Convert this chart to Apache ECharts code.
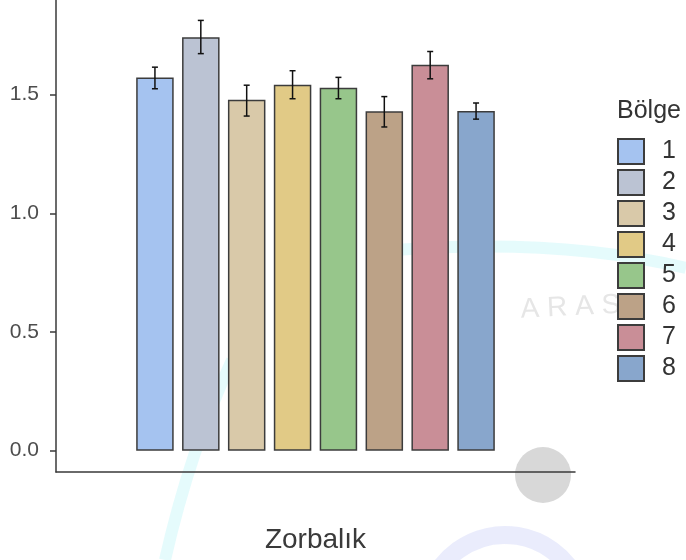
<!DOCTYPE html>
<html><head><meta charset="utf-8">
<script src="https://cdn.jsdelivr.net/npm/echarts@6/dist/echarts.min.js"></script>
<style>html,body{margin:0;padding:0;background:#fff}#c{width:686px;height:560px}</style>
</head><body><div id="c"></div>
<script>
const regions = ['1','2','3','4','5','6','7','8'];
const means = [1.572, 1.742, 1.479, 1.542, 1.529, 1.430, 1.626, 1.431];
const errLow = [1.525, 1.673, 1.410, 1.483, 1.483, 1.364, 1.567, 1.397];
const errHigh = [1.616, 1.813, 1.540, 1.601, 1.573, 1.492, 1.682, 1.465];
const colors = ['#a5c3f0','#bbc3d3','#d9c9a9','#e1ca86','#97c68b','#bca287','#c98e97','#88a6cc'];
const yTicks = [0, 0.5, 1.0, 1.5];
const category = 'Zorbalık';
const legendTitle = 'Bölge';
const watermark = 'A R A S';

const FONT = 'Liberation Sans, Arial, sans-serif';
const Y_MIN = -0.0898, Y_MAX = 1.899;

const chart = echarts.init(document.getElementById('c'), null, {renderer: 'canvas'});

const barSeries = regions.map((r, i) => ({
  name: r,
  type: 'bar',
  xAxisIndex: 1,
  yAxisIndex: 1,
  barWidth: 37.5,
  barGap: '-100%',
  z: 3,
  itemStyle: {color: colors[i], borderColor: '#3c3c3c', borderWidth: 1.5},
  data: regions.map((_, j) => j === i ? means[i] : '-')
}));

const errSeries = {
  type: 'custom',
  xAxisIndex: 1,
  yAxisIndex: 1,
  z: 5,
  silent: true,
  encode: {x: 0, y: [1, 2]},
  data: regions.map((_, i) => [i, errLow[i], errHigh[i]]),
  renderItem: function (params, api) {
    const lo = api.coord([api.value(0), api.value(1)]);
    const hi = api.coord([api.value(0), api.value(2)]);
    const w = 3;
    const st = {stroke: '#111', lineWidth: 1.5};
    return {type: 'group', children: [
      {type: 'line', shape: {x1: hi[0], y1: hi[1], x2: lo[0], y2: lo[1]}, style: st},
      {type: 'line', shape: {x1: hi[0] - w, y1: hi[1], x2: hi[0] + w, y2: hi[1]}, style: st},
      {type: 'line', shape: {x1: lo[0] - w, y1: lo[1], x2: lo[0] + w, y2: lo[1]}, style: st}
    ]};
  }
};

chart.setOption({
  animation: false,
  backgroundColor: '#fff',
  textStyle: {fontFamily: FONT},
  grid: [
    {left: 56, right: 111, top: 0, bottom: 88, containLabel: false},
    {left: 132, right: 187, top: 0, bottom: 88, containLabel: false}
  ],
  xAxis: [
    {
      type: 'category', gridIndex: 0, data: [category],
      axisLine: {onZero: false, lineStyle: {color: '#3a3a3a', width: 1.5}},
      axisTick: {alignWithLabel: true, length: 6, lineStyle: {color: '#3a3a3a', width: 1.5}},
      axisLabel: {margin: 54, fontSize: 28, color: '#3a3a3a', fontFamily: FONT},
      splitLine: {show: false}
    },
    {
      type: 'category', gridIndex: 1, data: regions, show: false
    }
  ],
  yAxis: [
    {
      type: 'value', gridIndex: 0, min: Y_MIN, max: Y_MAX,
      axisLine: {show: true, onZero: false, lineStyle: {color: '#3a3a3a', width: 1.5}},
      axisTick: {show: true, length: 6, customValues: yTicks, lineStyle: {color: '#3a3a3a', width: 1.5}},
      axisLabel: {customValues: yTicks, margin: 17, fontSize: 21, color: '#4d4d4d', fontFamily: FONT,
        formatter: v => Number(v).toFixed(1)},
      splitLine: {show: false}
    },
    {
      type: 'value', gridIndex: 1, min: Y_MIN, max: Y_MAX, show: false, splitLine: {show: false}
    }
  ],
  legend: {
    data: regions,
    orient: 'vertical',
    left: 617, top: 138,
    padding: 0,
    itemWidth: 26, itemHeight: 25, itemGap: 4,
    icon: 'rect',
    selectedMode: false,
    textStyle: {fontSize: 25, color: '#333', fontFamily: FONT, lineHeight: 26, padding: [0, 0, 0, 13]}
  },
  graphic: [
    {type: 'circle', z: -10, shape: {cx: 543, cy: 475, r: 28}, style: {fill: '#d8d8d8'}},
    {type: 'bezierCurve', z: -10, shape: {x1: 395, y1: 250, cpx1: 560, cpy1: 238, x2: 686, y2: 268}, style: {fill: null, stroke: 'rgba(190,245,248,0.4)', lineWidth: 12}},
    {type: 'bezierCurve', z: -10, shape: {x1: 232, y1: 360, cpx1: 190, cpy1: 450, x2: 165, y2: 560}, style: {fill: null, stroke: 'rgba(190,245,248,0.4)', lineWidth: 12}},
    {type: 'arc', z: -10, shape: {cx: 505, cy: 615, r: 80, startAngle: Math.PI * 1.05, endAngle: Math.PI * 1.85}, style: {fill: null, stroke: 'rgba(170,180,245,0.25)', lineWidth: 18}},
    {type: 'text', z: -10, x: 520, y: 296, rotation: 0.05, style: {text: watermark, font: '28px ' + FONT, fill: '#e6e6e6'}},
    {type: 'text', x: 617, y: 111, style: {text: legendTitle, font: '25px ' + FONT, fill: '#333', verticalAlign: 'middle'}}
  ],
  series: barSeries.concat([errSeries])
});
</script></body></html>
